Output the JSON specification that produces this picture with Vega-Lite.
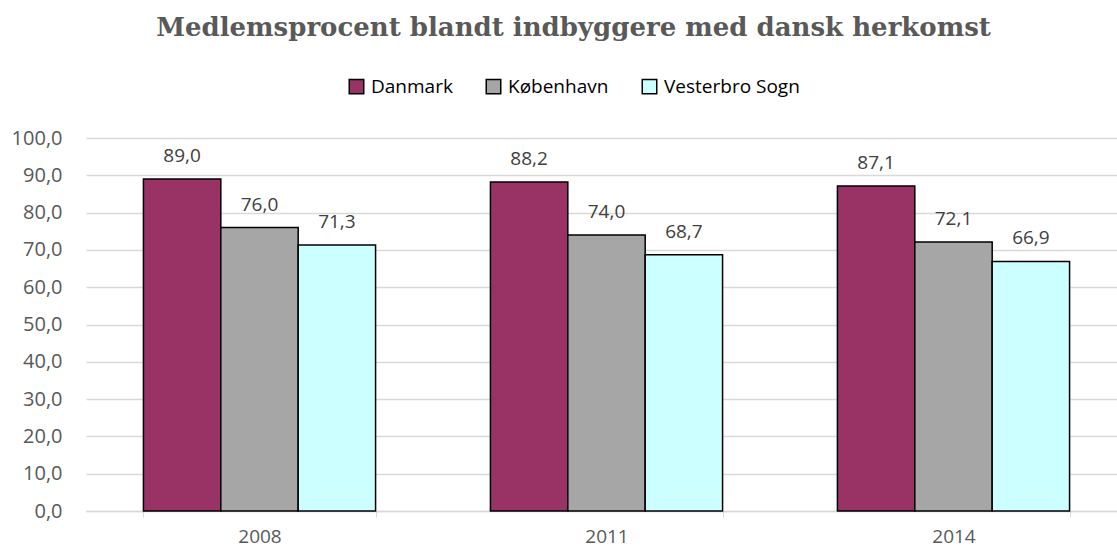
{
  "$schema": "https://vega.github.io/schema/vega-lite/v6.json",
  "width": 1041,
  "height": 373,
  "autosize": {"type": "none"},
  "padding": {"left": 86, "top": 138, "right": 0, "bottom": 39},
  "background": "white",
  "title": {
    "text": "Medlemsprocent blandt indbyggere med dansk herkomst",
    "font": "DejaVu Serif",
    "fontSize": 26,
    "fontWeight": "bold",
    "color": "#595959",
    "anchor": "middle",
    "frame": "group",
    "dx": -33,
    "offset": 36
  },
  "data": {
    "values": [
      {"year": "2008", "area": "Danmark", "pct": 89.0},
      {"year": "2008", "area": "København", "pct": 76.0},
      {"year": "2008", "area": "Vesterbro Sogn", "pct": 71.3},
      {"year": "2011", "area": "Danmark", "pct": 88.2},
      {"year": "2011", "area": "København", "pct": 74.0},
      {"year": "2011", "area": "Vesterbro Sogn", "pct": 68.7},
      {"year": "2014", "area": "Danmark", "pct": 87.1},
      {"year": "2014", "area": "København", "pct": 72.1},
      {"year": "2014", "area": "Vesterbro Sogn", "pct": 66.9}
    ]
  },
  "encoding": {
    "x": {
      "field": "year", "type": "nominal",
      "scale": {"paddingInner": 0.331, "paddingOuter": 0.1655},
      "axis": {
        "title": null, "labelAngle": 0, "labelFont": "Open Sans", "labelFontSize": 19,
        "labelColor": "#595959", "domainColor": "#d9d9d9", "domainWidth": 1.5,
        "tickColor": "#d9d9d9", "tickSize": 6, "tickBand": "extent",
        "labelPadding": 10
      }
    },
    "xOffset": {"field": "area", "type": "nominal", "sort": ["Danmark", "København", "Vesterbro Sogn"], "scale": {"paddingInner": 0, "paddingOuter": 0}},
    "y": {
      "field": "pct", "type": "quantitative",
      "scale": {"domain": [0, 100], "nice": false},
      "axis": {
        "title": null, "values": [0,10,20,30,40,50,60,70,80,90,100], "format": ".1f",
        "labelFont": "Open Sans", "labelFontSize": 20, "labelColor": "#595959",
        "domain": false, "ticks": false, "labelPadding": 24,
        "gridColor": "#d9d9d9", "gridWidth": 1.5
      }
    }
  },
  "layer": [
    {
      "mark": {"type": "bar", "stroke": "black", "strokeWidth": 1.5},
      "encoding": {
        "color": {
          "field": "area", "type": "nominal",
          "sort": ["Danmark", "København", "Vesterbro Sogn"],
          "scale": {"domain": ["Danmark", "København", "Vesterbro Sogn"], "range": ["#993366", "#a6a6a6", "#ccffff"]},
          "legend": {
            "title": null, "orient": "none", "direction": "horizontal",
            "legendX": 261, "legendY": -61,
            "symbolType": "square", "symbolSize": 210, "symbolStrokeColor": "black", "symbolStrokeWidth": 1.5,
            "labelFont": "Open Sans", "labelFontSize": 19, "labelColor": "black", "labelOffset": 5,
            "columnPadding": 30, "padding": 0
          }
        }
      }
    },
    {
      "mark": {"type": "text", "baseline": "bottom", "dy": -13, "font": "Open Sans", "fontSize": 19, "color": "#404040"},
      "encoding": {
        "text": {"field": "pct", "type": "quantitative", "format": ".1f"}
      }
    }
  ],
  "config": {
    "locale": {
      "number": {"decimal": ",", "thousands": ".", "grouping": [3], "currency": ["", " kr."]}
    },
    "view": {"stroke": null}
  }
}
